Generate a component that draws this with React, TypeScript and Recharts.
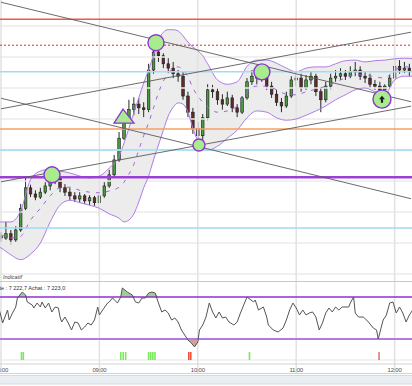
import React from 'react';
import { ComposedChart, XAxis, YAxis, Bar, Area, Line, ReferenceLine, Scatter } from 'recharts';

// ---------- time axis (minutes after 08:00) ----------
const tickTimes = [0, 60, 120, 180, 240];
const tickLabels = ['08:00', '09:00', '10:00', '11:00', '12:00'];

// ---------- candles (3-minute bars) ----------
const candleTimes = [0,3,6,9,12,15,18,21,24,27,30,33,36,39,42,45,48,51,54,57,60,63,66,69,72,75,78,81,84,87,90,93,96,99,102,105,108,111,114,117,120,123,126,129,132,135,138,141,144,147,150,153,156,159,162,165,168,171,174,177,180,183,186,189,192,195,198,201,204,207,210,213,216,219,222,225,228,231,234,237,240,243,246,249];
const opens = [7196.1,7195.8,7196.5,7195.5,7197.1,7200.6,7203.9,7202.9,7202.4,7203.2,7204.2,7205.2,7205.5,7203.9,7203.2,7202.6,7202.1,7202.6,7201.8,7202.3,7201.5,7202.6,7204.2,7206.0,7208.4,7211.9,7215.2,7216.5,7217.4,7216.8,7216.5,7222.9,7225.8,7225.2,7223.9,7223.2,7222.3,7221.9,7218.7,7216.1,7213.5,7212.3,7215.2,7219.7,7219.4,7218.1,7217.4,7218.4,7216.8,7216.1,7218.4,7221.0,7221.9,7221.6,7222.3,7220.3,7219.0,7217.7,7217.1,7218.7,7221.3,7221.6,7220.0,7221.3,7221.9,7219.4,7218.1,7220.3,7221.6,7221.9,7222.3,7221.9,7222.6,7222.9,7221.9,7221.6,7220.6,7220.3,7219.7,7220.3,7221.6,7223.5,7222.9,7223.2];
const highs = [7196.8,7198.4,7197.1,7197.7,7201.3,7205.5,7204.4,7203.5,7203.9,7204.8,7205.8,7206.5,7205.8,7204.5,7203.9,7203.2,7203.2,7202.9,7202.7,7202.6,7202.9,7204.8,7206.8,7209.2,7212.9,7216.1,7218.1,7218.5,7218.4,7217.7,7223.9,7227.3,7227.4,7225.6,7224.8,7224.2,7222.9,7222.6,7219.4,7216.8,7214.5,7215.8,7220.6,7220.5,7220.0,7219.0,7219.4,7218.9,7217.4,7218.7,7221.6,7222.9,7222.6,7223.5,7222.6,7221.0,7219.7,7218.4,7219.4,7221.9,7222.6,7222.3,7222.1,7222.6,7222.3,7220.0,7221.0,7222.3,7222.9,7223.2,7222.9,7223.5,7224.2,7223.5,7222.6,7222.3,7221.3,7221.0,7220.6,7222.1,7225.6,7224.5,7224.2,7223.9];
const lows = [7195.2,7195.5,7194.8,7195.2,7196.8,7200.3,7202.4,7201.9,7202.1,7202.9,7203.5,7204.5,7203.2,7202.6,7201.9,7201.6,7201.5,7201.3,7201.1,7201.0,7199.2,7202.3,7203.9,7205.5,7208.1,7211.6,7214.5,7215.6,7215.8,7215.3,7216.1,7222.3,7224.2,7223.2,7222.4,7221.6,7221.0,7218.1,7215.3,7212.6,7210.6,7211.6,7214.8,7218.4,7217.3,7216.5,7217.1,7216.1,7215.3,7215.8,7218.1,7220.5,7220.6,7221.0,7219.7,7218.4,7217.1,7216.1,7216.8,7218.4,7220.3,7219.4,7219.7,7220.6,7218.7,7216.1,7217.7,7219.8,7221.0,7221.3,7221.3,7221.6,7221.9,7221.3,7220.8,7220.0,7219.7,7219.0,7218.7,7220.0,7221.3,7222.3,7222.4,7221.9];
const closes = [7195.8,7196.5,7195.5,7197.1,7200.6,7203.9,7202.9,7202.4,7203.2,7204.2,7205.2,7205.5,7203.9,7203.2,7202.6,7202.1,7202.6,7201.8,7202.3,7201.5,7202.6,7204.2,7206.0,7208.4,7211.9,7215.2,7216.5,7217.4,7216.8,7216.5,7222.9,7225.8,7225.2,7223.9,7223.2,7222.3,7221.9,7218.7,7216.1,7213.5,7212.3,7215.2,7219.7,7219.4,7218.1,7217.4,7218.4,7216.8,7216.1,7218.4,7221.0,7221.9,7221.6,7222.3,7220.3,7219.0,7217.7,7217.1,7218.7,7221.3,7221.6,7220.0,7221.3,7221.9,7219.4,7218.1,7220.3,7221.6,7221.9,7222.3,7221.9,7222.6,7222.9,7221.9,7221.6,7220.6,7220.3,7219.7,7220.3,7221.6,7223.5,7222.9,7223.2,7222.6];

// ---------- Bollinger bands ----------
const bandTimes = [-6,0,6,12,18,24,30,36,42,48,54,60,66,72,75,78,81,84,87,90,93,96,99,102,105,108,111,114,117,120,123,126,132,138,144,150,156,162,168,174,180,186,192,198,204,210,216,222,228,234,240,246,252];
const bandUpper = [7198.2,7198.4,7198.4,7200.2,7205.2,7206.6,7206.9,7206.6,7206.3,7205.8,7205.5,7205.8,7207.1,7209.0,7211.1,7213.5,7216.0,7218.4,7220.8,7222.9,7225.3,7227.7,7229.0,7229.4,7229.4,7229.2,7228.4,7227.4,7226.6,7226.0,7225.2,7223.9,7221.3,7220.6,7221.0,7223.5,7224.5,7224.5,7224.0,7223.2,7222.6,7223.2,7223.4,7223.4,7223.9,7224.4,7224.5,7224.2,7224.4,7224.5,7224.7,7224.8,7224.7];
const bandLower = [7194.8,7194.2,7193.1,7192.3,7193.2,7195.0,7198.4,7201.1,7201.9,7201.5,7201.1,7200.6,7199.7,7199.0,7198.4,7198.7,7199.7,7201.6,7203.9,7205.8,7208.4,7210.8,7213.2,7215.5,7216.9,7217.6,7217.4,7216.1,7213.5,7211.5,7210.3,7210.0,7210.6,7211.9,7213.2,7215.2,7216.3,7216.1,7215.2,7214.8,7215.0,7215.6,7216.3,7217.1,7218.1,7218.9,7219.7,7220.0,7219.4,7218.9,7221.3,7221.9,7221.9];
const bandMid = [7196.5,7196.3,7195.8,7196.1,7198.7,7200.6,7202.6,7203.9,7204.0,7203.5,7203.2,7203.1,7203.4,7204.0,7204.8,7206.1,7207.7,7210.0,7212.3,7214.4,7216.8,7219.2,7221.1,7222.4,7223.2,7223.4,7222.9,7221.8,7220.0,7218.7,7217.7,7216.9,7216.1,7216.3,7217.1,7219.4,7220.3,7220.3,7219.7,7219.0,7218.9,7219.4,7219.8,7220.3,7221.0,7221.6,7222.1,7222.1,7221.8,7221.6,7222.9,7223.4,7223.4];

// ---------- horizontal levels ----------
const gridPrices = [7230, 7225, 7220, 7215, 7210, 7205, 7200, 7195, 7190];
const levelPrices = [7231.1, 7226.9, 7222.6, 7213.4, 7210.0, 7205.6, 7197.4];
const levelKinds = ['red', 'redDotted', 'blue', 'orange', 'blue', 'purple', 'blue'];

// ---------- trend lines [t1, p1, t2, p2] ----------
const trendA = [0, 7233.83, 250, 7217.78];
const trendB = [0, 7218.35, 250, 7202.14];
const trendC = [0, 7216.64, 250, 7229.0];
const trendD = [0, 7204.87, 250, 7217.07];

// ---------- signal markers on price ----------
const markerTimes = [31.1, 75, 94.5, 120.7, 159.1, 232.3];
const markerPrices = [7206.0, 7215.3, 7227.3, 7210.8, 7222.6, 7218.2];
const markerKinds = ['circle', 'triangle', 'circle', 'small', 'circle', 'arrow'];

// ---------- oscillator ----------
const oscTimes = [-1,1,4,5,7,9,10,13,15,16,19,20,22,24,25,27,29,31,33,35,36,37,39,41,43,45,47,49,51,53,55,57,59,60,62,65,66,68,71,73,74,77,80,82,84,86,88,90,92,94,96,98,100,102,104,106,108,110,112,114,116,118,120,121,123,125,127,129,131,133,135,137,139,142,144,146,148,150,154,155,157,160,162,163,166,169,172,174,176,178,180,182,184,186,188,190,192,194,196,198,200,202,204,206,208,212,213,215,216,218,221,224,227,229,230,233,235,237,239,241,243,245,247,249,251];
const oscValues = [61.4,42.9,61.4,47.1,57.1,65.7,78.6,87.1,82.9,72.9,68.6,64.3,71.4,65.7,72.9,64.3,71.4,58.6,65.7,64.3,51.4,44.3,51.4,42.9,32.9,44.3,42.9,32.9,37.1,42.9,40,47.1,65.7,54.3,61.4,71.4,72.9,78.6,71.4,80,92.9,87.1,82.9,72.9,71.4,78.6,78.6,85.7,87.1,85.7,71.4,58.6,61.4,57.1,47.1,50,44.3,32.9,25.7,18.6,14.3,8.6,15.7,32.9,40,51.4,71.4,58.6,50,58.6,50,51.4,44.3,40,44.3,57.1,68.6,80,72.9,75.7,61.4,65.7,51.4,40,32.9,30,35.7,47.1,61.4,71.4,64.3,54.3,61.4,54.3,57.1,58.6,51.4,32.9,42.9,57.1,64.3,58.6,65.7,61.4,65.7,65.7,71.4,80,57.1,51.4,51.4,44.3,35.7,32.9,20,47.1,54.3,71.4,72.9,57.1,65.7,57.1,44.3,54.3,61.4];
const oscUpper = 80;
const oscLower = 20;

const signalTimes = [12.5, 13.6, 73, 74.5, 76, 90, 91.3, 92.6, 93.9, 114.5, 115.7, 151.5, 230.5];
const signalKinds = ['buy','buy','buy','buy','buy','buy','buy','buy','buy','sell','sell','buy','sellThin'];

const quoteText = 'Vente : 7 222,7 Achat : 7 223,0';
const panelTitle = 'Indicatif';

// ---------- layout constants ----------
const W = 412;
const T_DOMAIN = [-0.61, 250.6];
const P_DOMAIN = [7188.55, 7234.19];
const OSC_DOMAIN = [-30, 100];
const SIGNAL_LEVEL = -4.3;
const FONT = '"Liberation Sans", Arial, sans-serif';
const BAND_STROKE = '#b07be8';

const LEVEL_STYLE: any = {
  red: { stroke: '#ef5a48', strokeWidth: 1.5 },
  redDotted: { stroke: '#e3262a', strokeWidth: 1, strokeDasharray: '2 2' },
  blue: { stroke: '#a2dbf6', strokeWidth: 1.5 },
  orange: { stroke: '#f6a066', strokeWidth: 1.5 },
  purple: { stroke: '#9a40d2', strokeWidth: 2.5 },
};

const candles = candleTimes.map((t, i) => ({ t, open: opens[i], high: highs[i], low: lows[i], close: closes[i] }));
const bands = bandTimes.map((t, i) => ({ t, upper: bandUpper[i], lower: bandLower[i], mid: bandMid[i] }));
const markers = markerTimes.map((t, i) => ({ t, p: markerPrices[i], kind: markerKinds[i] }));
const osc = oscTimes.map((t, i) => ({ t, v: oscValues[i] }));
const signals = signalTimes.map((t, i) => ({ t, level: SIGNAL_LEVEL, kind: signalKinds[i] }));
const trends = [trendA, trendB, trendC, trendD];

function Candle(props: any) {
  const { x, y, width, height, payload } = props;
  if (!payload || x == null) return null;
  const top = Math.min(y, y + height);
  const h = Math.abs(height);
  const range = payload.high - payload.low;
  const k = range > 0 ? h / range : 0;
  const cx = x + width / 2;
  const up = payload.close >= payload.open;
  const bTop = top + (payload.high - Math.max(payload.open, payload.close)) * k;
  const bBot = top + (payload.high - Math.min(payload.open, payload.close)) * k;
  return (
    <g>
      <line x1={cx} x2={cx} y1={top} y2={top + h} stroke="#2a2a2a" strokeWidth={1} />
      <rect x={cx - 1.3} y={bTop} width={2.6} height={Math.max(1, bBot - bTop)}
        fill={up ? '#4a9a40' : '#5e2c2c'} stroke="#1a1a1a" strokeWidth={0.6} />
    </g>
  );
}

function Marker(props: any) {
  const { cx, cy, payload } = props;
  if (cx == null || !payload) return null;
  const kind = payload.kind;
  const fill = '#a8ec8e';
  const stroke = '#8d35d0';
  if (kind === 'triangle') {
    return <polygon points={`${cx - 1},${cy - 8} ${cx - 10},${cy + 6} ${cx + 10},${cy + 6}`} fill={fill} stroke={stroke} strokeWidth={1.3} />;
  }
  const r = kind === 'small' ? 6 : kind === 'arrow' ? 9 : 8;
  return (
    <g>
      <circle cx={cx} cy={cy} r={r} fill={fill} stroke={stroke} strokeWidth={1.4} />
      {kind === 'arrow' && (
        <path d={`M${cx},${cy - 3.5} L${cx + 3},${cy} L${cx + 1.1},${cy} L${cx + 1.1},${cy + 3.5} L${cx - 1.1},${cy + 3.5} L${cx - 1.1},${cy} L${cx - 3},${cy} Z`} fill="#1e1e1e" />
      )}
    </g>
  );
}

function SignalBar(props: any) {
  const { cx, cy, payload } = props;
  if (cx == null || !payload) return null;
  const color = payload.kind === 'buy' ? '#7be85a' : payload.kind === 'sell' ? '#f2503a' : '#d42a2a';
  const w = payload.kind === 'sellThin' ? 1 : 1.6;
  return <rect x={cx - w / 2} y={cy - 4} width={w} height={8} fill={color} />;
}

function TimeTick(props: any) {
  const { x, y, payload } = props;
  const idx = tickTimes.indexOf(payload.value);
  return (
    <text x={x} y={y - 2} textAnchor="middle" fontSize={6} letterSpacing={-0.2} fill="#505050" fontFamily={FONT}>
      {tickLabels[idx]}
    </text>
  );
}

export default function App() {
  return (
    <div style={{ position: 'absolute', left: 0, top: 0, width: W, height: 386, background: '#fff', overflow: 'hidden', fontFamily: FONT }}>
      <div style={{ position: 'absolute', left: 0, top: 0 }}>
        <ComposedChart width={W} height={283} data={candles} margin={{ top: 0, right: 0, bottom: 0, left: 0 }}>
          <XAxis type="number" dataKey="t" domain={T_DOMAIN} allowDataOverflow hide />
          <YAxis type="number" domain={P_DOMAIN} allowDataOverflow hide />
          {gridPrices.map((p) => (
            <ReferenceLine key={'g' + p} y={p} stroke="#ebebeb" strokeWidth={1.5} />
          ))}
          {tickTimes.map((t) => (
            <ReferenceLine key={'v' + t} x={t} stroke="#e2e2e2" strokeWidth={1.5} />
          ))}
          <Area data={bands} type="monotone" dataKey={(d: any) => [d.lower, d.upper]} fill="#ececec" fillOpacity={1}
            stroke="none" dot={false} activeDot={false} isAnimationActive={false} />
          <Line data={bands} type="monotone" dataKey="upper" stroke={BAND_STROKE} strokeWidth={1}
            dot={false} activeDot={false} isAnimationActive={false} />
          <Line data={bands} type="monotone" dataKey="lower" stroke={BAND_STROKE} strokeWidth={1}
            dot={false} activeDot={false} isAnimationActive={false} />
          <Line data={bands} type="monotone" dataKey="mid" stroke="#a464e2" strokeWidth={1} strokeDasharray="4 6"
            dot={false} activeDot={false} isAnimationActive={false} />
          {levelPrices.map((p, i) => (
            <ReferenceLine key={'l' + i} y={p} {...LEVEL_STYLE[levelKinds[i]]} />
          ))}
          <Bar dataKey={(d: any) => [d.low, d.high]} barSize={3} shape={<Candle />} isAnimationActive={false} />
          {trends.map((s, i) => (
            <ReferenceLine key={'tr' + i} segment={[{ x: s[0], y: s[1] }, { x: s[2], y: s[3] }]}
              stroke="#5a5a5a" strokeWidth={0.9} ifOverflow="visible" />
          ))}
          <Scatter data={markers} dataKey="p" shape={<Marker />} isAnimationActive={false} />
        </ComposedChart>
      </div>
      <div style={{ position: 'absolute', left: 0, top: 283 }}>
        <ComposedChart width={W} height={103} data={osc} margin={{ top: 0, right: 0, bottom: 0, left: 0 }}>
          <XAxis type="number" dataKey="t" domain={T_DOMAIN} allowDataOverflow ticks={tickTimes} interval={0}
            height={12} axisLine={false} tickLine={false} tickSize={0} tickMargin={0} tick={<TimeTick />} />
          <YAxis type="number" domain={OSC_DOMAIN} allowDataOverflow hide />
          {tickTimes.map((t) => (
            <ReferenceLine key={'ov' + t} x={t} stroke="#e2e2e2" strokeWidth={1.5} />
          ))}
          <ReferenceLine y={-10} stroke="#e4e4e4" strokeWidth={1} />
          <ReferenceLine y={-15.7} stroke="#d2d2d2" strokeWidth={1} />
          <ReferenceLine y={oscUpper} stroke="#8f2fd4" strokeWidth={1.6} />
          <ReferenceLine y={oscLower} stroke="#b27ae2" strokeWidth={2} />
          <Area dataKey={(d: any) => [oscUpper, Math.max(oscUpper, d.v)]} fill="#9fcf92" fillOpacity={1} stroke="none"
            dot={false} activeDot={false} isAnimationActive={false} />
          <Area dataKey={(d: any) => [Math.min(oscLower, d.v), oscLower]} fill="#d6a09c" fillOpacity={1} stroke="none"
            dot={false} activeDot={false} isAnimationActive={false} />
          <Line dataKey="v" type="linear" stroke="#555" strokeWidth={1} dot={false} activeDot={false} isAnimationActive={false} />
          <Scatter data={signals} dataKey="level" shape={<SignalBar />} isAnimationActive={false} />
        </ComposedChart>
      </div>
      <svg width={W} height={386} style={{ position: 'absolute', left: 0, top: 0, pointerEvents: 'none' }}>
        <line x1={0} x2={W} y1={281.5} y2={281.5} stroke="#c8c8c8" strokeWidth={1} />
        <text x={3} y={279} fontSize={5.5} fontStyle="italic" fill="#444" fontFamily={FONT}>{panelTitle}</text>
        <text x={-10} y={290} fontSize={5.5} fill="#333" fontFamily={FONT}>{quoteText}</text>
        <line x1={0} x2={W} y1={373.5} y2={373.5} stroke="#d2d2d2" strokeWidth={1} />
        <rect x={-1} y={375.5} width={W + 2} height={8.5} fill="#e8eef1" stroke="#d3dadd" strokeWidth={1} />
      </svg>
    </div>
  );
}
